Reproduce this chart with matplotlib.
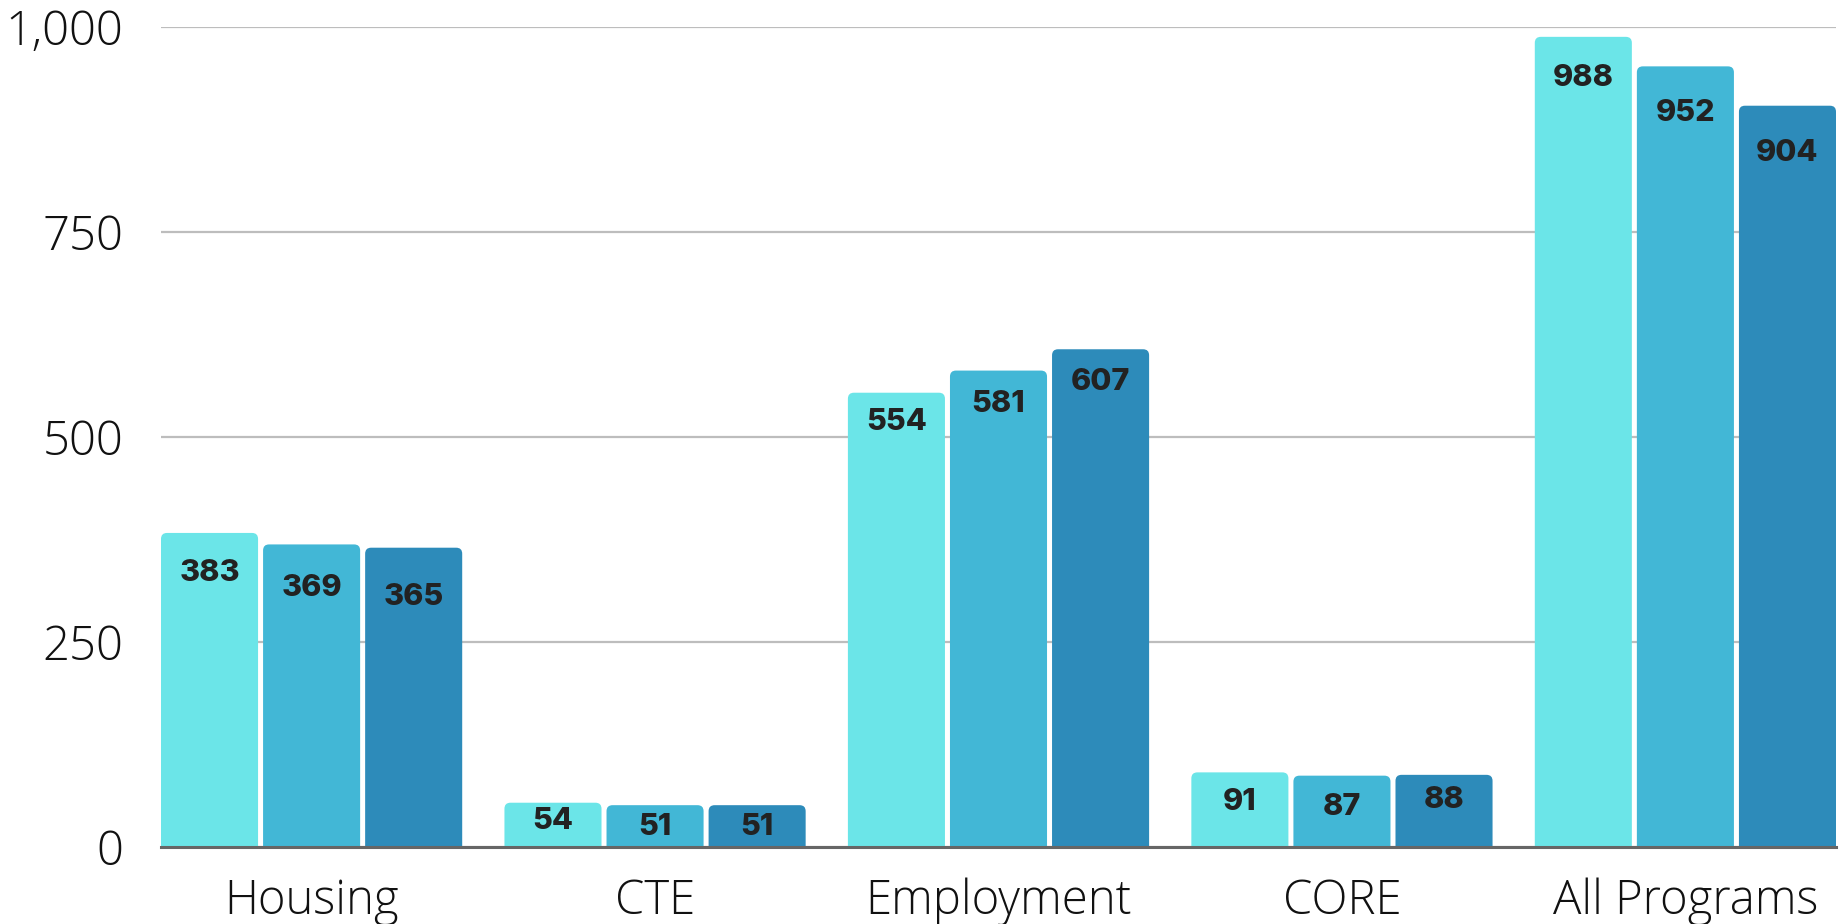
import numpy as np
import matplotlib
matplotlib.use("Agg")
import matplotlib.pyplot as plt
from matplotlib.patches import FancyBboxPatch
from matplotlib.ticker import FuncFormatter

# data
programs = ["Housing", "CTE", "Employment", "CORE", "All Programs"]
year1 = [383, 54, 554, 91, 988]
year2 = [369, 51, 581, 87, 952]
year3 = [365, 51, 607, 88, 904]
yticks = [0, 250, 500, 750, 1000]

colors = ["#6be5e8", "#42b7d6", "#2d8bba"]
# how far below the bar top each value label sits (px), per series
label_drop = [
    [40, 18, 29, 30, 41],
    [44, 22, 33, 31, 47],
    [49, 22, 33, 25, 47],
]

W, H = 1844, 924
fig = plt.figure(figsize=(W / 100, H / 100), dpi=100)
ax_left, ax_right, ax_bot, ax_top = 161, 1836, 847, 27
ax = fig.add_axes([ax_left / W, (H - ax_bot) / H,
                   (ax_right - ax_left) / W, (ax_bot - ax_top) / H])

x = np.arange(len(programs))
step = 0.2972
width = 0.2826
xmin, xmax = -step - width / 2, len(programs) - 1 + step + width / 2
ax.set_xlim(xmin, xmax)
ax.set_ylim(0, 1000)

# data units per pixel
xu = (xmax - xmin) / (ax_right - ax_left)
yu = 1000 / (ax_bot - ax_top)
radius_px = 6

for i, vals in enumerate([year1, year2, year3]):
    bars = ax.bar(x + (i - 1) * step, vals, width, color=colors[i], zorder=3)
    for j, b in enumerate(bars):
        bx, bw, bh = b.get_x(), b.get_width(), b.get_height()
        b.remove()
        patch = FancyBboxPatch(
            (bx, -12 * yu), bw, bh + 12 * yu,
            boxstyle=f"round,pad=0,rounding_size={radius_px * xu}",
            mutation_aspect=yu / xu,
            facecolor=colors[i], edgecolor="none", zorder=3)
        ax.add_patch(patch)
        ax.text(bx + bw / 2, bh - label_drop[i][j] * yu, str(vals[j]),
                ha="center", va="center", fontsize=22, fontweight=800,
                family="Inter", color="#222222", zorder=4)

ax.set_yticks(yticks)
ax.yaxis.set_major_formatter(FuncFormatter(lambda v, p: f"{int(v):,}"))
ax.set_xticks(x)
ax.set_xticklabels(programs)
for lab in ax.get_xticklabels() + ax.get_yticklabels():
    lab.set_fontfamily("Open Sans")
    lab.set_fontweight("light")
    lab.set_fontsize(34)
    lab.set_color("#111111")
ax.tick_params(axis="y", length=0, pad=27)
ax.tick_params(axis="x", length=0, pad=22)

ax.grid(axis="y", color="#bdbdbd", linewidth=1.6, zorder=1)
ax.set_axisbelow(True)
for s in ["top", "right", "left"]:
    ax.spines[s].set_visible(False)
ax.spines["bottom"].set_color("#666666")
ax.spines["bottom"].set_linewidth(2.2)
ax.spines["bottom"].set_zorder(5)

fig.savefig("out.png", dpi=100)
